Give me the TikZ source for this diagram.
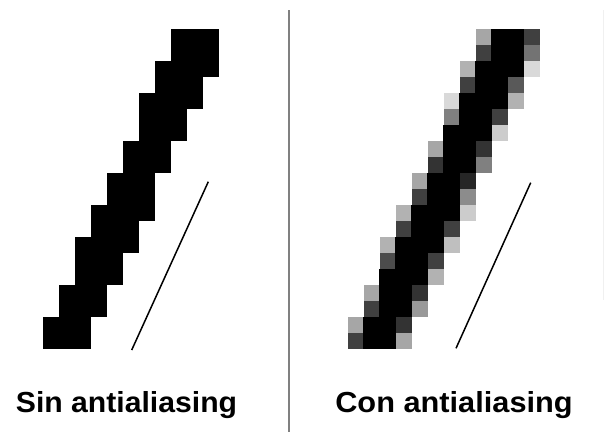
\documentclass[tikz,border=0pt]{standalone}
\usepackage{fontspec}
\setmainfont{Liberation Sans}
\tikzset{
  pix/.style={fill=black},
  label/.style={font=\fontsize{29}{30}\selectfont\bfseries, inner sep=0pt, anchor=base},
  thinline/.style={draw=black, line width=1.5pt},
  divider/.style={draw=black!50, line width=2pt}
}
\begin{document}
\begin{tikzpicture}[x=1pt,y=-1pt]
\useasboundingbox (0,0) rectangle (609,432);
\fill[white] (0,0) rectangle (609,432);
% left: aliased staircase
\begin{scope}[shift={(43.3,29.3)}]
\foreach \r/\a/\b in {0/8/11,1/8/11,2/7/11,3/7/10,4/6/10,5/6/9,6/6/9,7/5/8,8/5/8,9/4/7,10/4/7,11/3/7,12/3/6,13/2/6,14/2/5,15/2/5,16/1/4,17/1/4,18/0/3,19/0/3}
  \fill[pix] (16*\a-0.2,16*\r-0.2) rectangle (16*\b,16*\r+16);
\end{scope}
% right: antialiased staircase
\begin{scope}[shift={(347.5,29.3)}]
\foreach \r/\c/\k in {0/8/35,0/11/75,1/8/75,1/11/55,2/7/30,2/11/15,3/7/75,3/10/65,4/6/15,4/10/30,5/6/50,5/9/75,6/9/20,7/5/35,7/8/80,8/5/80,8/8/50,9/4/35,9/7/85,10/4/75,10/7/45,11/3/30,11/7/20,12/3/75,12/6/75,13/2/30,13/6/25,14/2/70,14/5/75,15/5/30,16/1/35,16/4/80,17/1/75,17/4/40,18/0/35,18/3/80,19/0/75,19/3/35}
  \fill[black!\k] (16*\c,16*\r) rectangle +(16,16);
\foreach \r/\a/\b in {0/9/11,1/9/11,2/8/11,3/8/10,4/7/10,5/7/9,6/6/9,7/6/8,8/6/8,9/5/7,10/5/7,11/4/7,12/4/6,13/3/6,14/3/5,15/2/5,16/2/4,17/2/4,18/1/3,19/1/3}
  \fill[pix] (16*\a-0.2,16*\r-0.2) rectangle (16*\b,16*\r+16);
\end{scope}
% thin ideal lines
\coordinate (l1) at (131.7,350);
\coordinate (l2) at (208.3,181.7);
\coordinate (r1) at (456,348.3);
\coordinate (r2) at (530.7,182.7);
\draw[thinline] (l1) -- (l2);
\draw[thinline] (r1) -- (r2);
% divider
\coordinate (dtop) at (288.5,10);
\coordinate (dbot) at (288.5,432);
\draw[divider] (dtop) -- (dbot);
\draw[black!6, line width=1pt] (603,10) -- (603,300);
% labels
\node[label, xscale=1.04] (sin) at (126.5,412) {Sin antialiasing};
\node[label, xscale=1.06] (con) at (454,412) {Con antialiasing};
\end{tikzpicture}
\end{document}
